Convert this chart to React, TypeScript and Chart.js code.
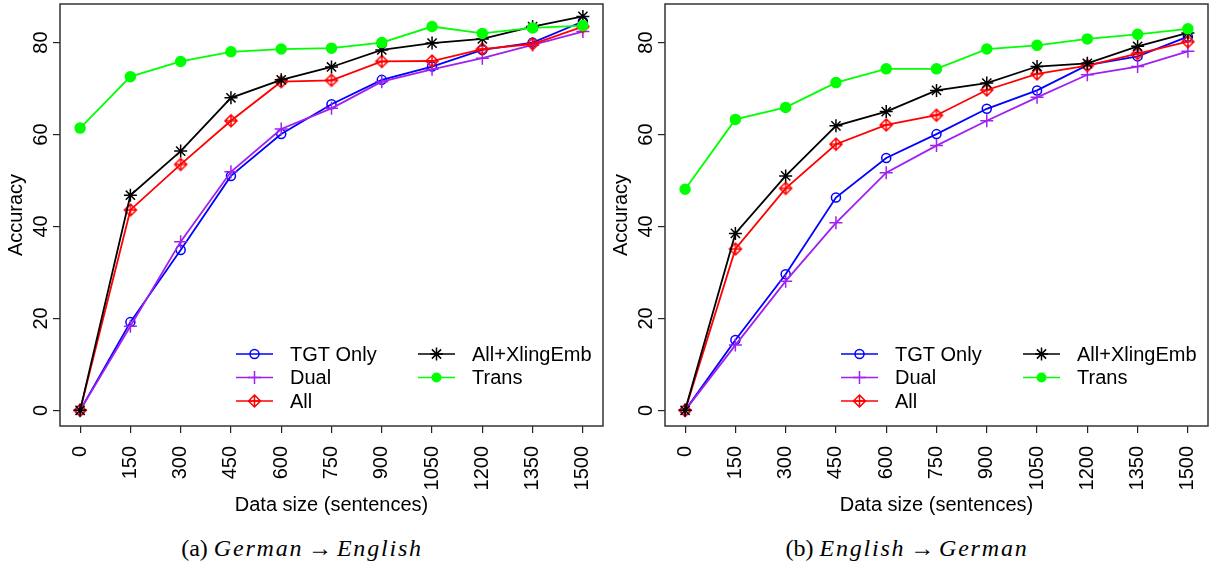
import React, { useEffect, useRef } from "react";
import { Chart, registerables } from "chart.js";

Chart.register(...registerables);

// ---------------- data ----------------
const dataSizes = [0, 150, 300, 450, 600, 750, 900, 1050, 1200, 1350, 1500];
const xTickLabels = ["0", "150", "300", "450", "600", "750", "900", "1050", "1200", "1350", "1500"];
const yTicks = [0, 20, 40, 60, 80];
const seriesNames = ["TGT Only", "Dual", "All", "All+XlingEmb", "Trans"];

// (a) German -> English
const deEnTgtOnly = [0, 19.2, 34.9, 51.0, 60.1, 66.6, 71.9, 74.8, 78.4, 80.0, 84.6];
const deEnDual = [0, 18.3, 36.7, 51.9, 61.2, 65.7, 71.5, 74.2, 76.6, 79.5, 82.4];
const deEnAll = [0, 43.6, 53.5, 63.0, 71.5, 71.8, 75.9, 76.0, 78.6, 79.7, 83.5];
const deEnXling = [0, 46.8, 56.4, 68.0, 71.9, 74.7, 78.4, 79.9, 80.8, 83.5, 85.7];
const deEnTrans = [61.4, 72.6, 75.9, 78.0, 78.6, 78.8, 80.0, 83.5, 82.0, 83.2, 83.7];

// (b) English -> German
const enDeTgtOnly = [0, 15.3, 29.6, 46.3, 54.9, 60.1, 65.6, 69.6, 75.1, 77.0, 81.3];
const enDeDual = [0, 14.2, 28.1, 40.8, 51.7, 57.6, 63.0, 68.1, 73.0, 74.8, 78.1];
const enDeAll = [0, 35.1, 48.3, 57.9, 62.1, 64.2, 69.7, 73.2, 75.0, 77.6, 80.2];
const enDeXling = [0, 38.5, 51.0, 61.9, 65.0, 69.6, 71.2, 74.8, 75.5, 79.2, 82.1];
const enDeTrans = [48.1, 63.3, 65.9, 71.3, 74.3, 74.3, 78.6, 79.4, 80.8, 81.8, 83.0];

// ---------------- styling ----------------
const seriesColors = ["#0000FF", "#A020F0", "#FF0000", "#000000", "#00FF00"];
const markerKinds = ["openCircle", "plus", "diamondPlus", "asterisk", "dot"];
const FONT = '"Liberation Sans", Arial, Helvetica, sans-serif';
const CANVAS_W = 605;
const CANVAS_H = 520;
const PLOT_BOTTOM = 426;

function drawMarker(ctx: CanvasRenderingContext2D, kind: string, x: number, y: number, color: string) {
  ctx.save();
  ctx.strokeStyle = color;
  ctx.fillStyle = color;
  ctx.lineWidth = 1.5;
  ctx.beginPath();
  if (kind === "openCircle") {
    ctx.arc(x, y, 4.5, 0, Math.PI * 2);
    ctx.stroke();
  } else if (kind === "dot") {
    ctx.arc(x, y, 5, 0, Math.PI * 2);
    ctx.fill();
  } else if (kind === "plus") {
    ctx.moveTo(x - 6.5, y); ctx.lineTo(x + 6.5, y);
    ctx.moveTo(x, y - 6.5); ctx.lineTo(x, y + 6.5);
    ctx.stroke();
  } else if (kind === "asterisk") {
    const r = 6.5, d = r * 0.7071;
    ctx.moveTo(x - r, y); ctx.lineTo(x + r, y);
    ctx.moveTo(x, y - r); ctx.lineTo(x, y + r);
    ctx.moveTo(x - d, y - d); ctx.lineTo(x + d, y + d);
    ctx.moveTo(x - d, y + d); ctx.lineTo(x + d, y - d);
    ctx.stroke();
  } else if (kind === "diamondPlus") {
    const r = 6;
    ctx.moveTo(x, y - r); ctx.lineTo(x + r, y); ctx.lineTo(x, y + r); ctx.lineTo(x - r, y); ctx.closePath();
    ctx.moveTo(x - r, y); ctx.lineTo(x + r, y);
    ctx.moveTo(x, y - r); ctx.lineTo(x, y + r);
    ctx.stroke();
  }
  ctx.restore();
}

function makeDiamondPlusCanvas(color: string) {
  const c = document.createElement("canvas");
  c.width = 16;
  c.height = 16;
  const ctx = c.getContext("2d")!;
  drawMarker(ctx, "diamondPlus", 8, 8, color);
  return c;
}

type PanelProps = {
  series: number[][];
  left: number;
  captionLabel: string;
  from: string;
  to: string;
};

function Panel({ series, left, captionLabel, from, to }: PanelProps) {
  const ref = useRef<HTMLCanvasElement | null>(null);

  useEffect(() => {
    if (!ref.current) return;
    const diamond = makeDiamondPlusCanvas(seriesColors[2]);

    const datasets = series.map((vals, i) => {
      const kind = markerKinds[i];
      const color = seriesColors[i];
      let pointStyle: any = "circle";
      let pointRadius = 4.5;
      let pointBackgroundColor = "rgba(0,0,0,0)";
      if (kind === "plus") { pointStyle = "cross"; pointRadius = 6.5; }
      if (kind === "asterisk") { pointStyle = "star"; pointRadius = 6.5; }
      if (kind === "diamondPlus") { pointStyle = diamond; pointRadius = 8; }
      if (kind === "dot") { pointRadius = 5; pointBackgroundColor = color; }
      return {
        label: seriesNames[i],
        data: dataSizes.map((x, j) => ({ x, y: vals[j] })),
        borderColor: color,
        backgroundColor: color,
        borderWidth: 1.8,
        pointStyle,
        pointRadius,
        pointBorderColor: color,
        pointBackgroundColor,
        pointBorderWidth: 1.5,
        tension: 0,
        fill: false,
        order: series.length - i,
      };
    });

    const boxPlugin = {
      id: "rbox",
      afterDatasetsDraw(chart: any) {
        const { ctx, chartArea } = chart;
        ctx.save();
        ctx.strokeStyle = "#333";
        ctx.lineWidth = 1.5;
        ctx.strokeRect(chartArea.left, chartArea.top, chartArea.right - chartArea.left, chartArea.bottom - chartArea.top);
        ctx.restore();
      },
    };

    const legendPlugin = {
      id: "rlegend",
      afterDraw(chart: any) {
        const ctx = chart.ctx as CanvasRenderingContext2D;
        const colStart = [236, 418];
        const rowsY = [354, 377.5, 401];
        const lineLen = 37;
        const textOffset = 54;
        ctx.save();
        ctx.font = `20px ${FONT}`;
        ctx.textBaseline = "middle";
        ctx.textAlign = "left";
        chart.data.datasets.forEach((ds: any, i: number) => {
          const col = i < 3 ? 0 : 1;
          const row = i < 3 ? i : i - 3;
          const x0 = colStart[col];
          const y = rowsY[row];
          ctx.strokeStyle = seriesColors[i];
          ctx.lineWidth = 1.5;
          ctx.beginPath();
          ctx.moveTo(x0, y);
          ctx.lineTo(x0 + lineLen, y);
          ctx.stroke();
          drawMarker(ctx, markerKinds[i], x0 + lineLen / 2, y, seriesColors[i]);
          ctx.fillStyle = "#000";
          ctx.fillText(ds.label, x0 + textOffset, y + 1);
        });
        ctx.restore();
      },
    };

    const chart = new Chart(ref.current, {
      type: "line",
      data: { datasets: datasets as any },
      plugins: [boxPlugin, legendPlugin],
      options: {
        animation: false,
        responsive: false,
        events: [],
        layout: { autoPadding: false, padding: { left: 0, right: 2, top: 4, bottom: 0 } },
        plugins: {
          legend: { display: false },
          tooltip: { enabled: false },
          title: { display: false },
        },
        scales: {
          x: {
            type: "linear",
            min: -60,
            max: 1560,
            afterBuildTicks: (axis: any) => {
              axis.ticks = dataSizes.map((v) => ({ value: v }));
            },
            afterFit: (axis: any) => {
              axis.height = CANVAS_H - PLOT_BOTTOM;
              axis.paddingLeft = 0;
              axis.paddingRight = 0;
            },
            border: { display: false },
            grid: {
              display: true,
              drawOnChartArea: false,
              drawTicks: true,
              tickLength: 7,
              color: "#222",
              lineWidth: 1.2,
            },
            ticks: {
              autoSkip: false,
              minRotation: 90,
              maxRotation: 90,
              padding: 13,
              color: "#000",
              font: { family: FONT, size: 20 },
              callback: (_v: any, idx: number) => xTickLabels[idx],
            },
            title: {
              display: true,
              text: "Data size (sentences)",
              color: "#000",
              font: { family: FONT, size: 20 },
              padding: { top: 0, bottom: 3 },
            },
          },
          y: {
            type: "linear",
            min: -3.4,
            max: 88.4,
            afterBuildTicks: (axis: any) => {
              axis.ticks = yTicks.map((v) => ({ value: v }));
            },
            afterFit: (axis: any) => {
              axis.width = 60;
              axis.paddingTop = 0;
              axis.paddingBottom = 0;
            },
            border: { display: false },
            grid: {
              display: true,
              drawOnChartArea: false,
              drawTicks: true,
              tickLength: 7,
              color: "#222",
              lineWidth: 1.2,
            },
            ticks: {
              minRotation: 90,
              maxRotation: 90,
              crossAlign: "center",
              padding: 0,
              color: "#000",
              font: { family: FONT, size: 20 },
              callback: (v: any) => String(v),
            },
            title: {
              display: true,
              text: "Accuracy",
              color: "#000",
              font: { family: FONT, size: 20 },
              padding: { top: 4, bottom: 0 },
            },
          },
        },
      } as any,
    });
    return () => chart.destroy();
  }, [series]);

  return (
    <>
      <canvas
        ref={ref}
        width={CANVAS_W}
        height={CANVAS_H}
        style={{ position: "absolute", left, top: 0, width: CANVAS_W, height: CANVAS_H }}
      />
      <div
        style={{
          position: "absolute",
          left: left + 302 - 200,
          top: 533,
          width: 400,
          height: 30,
          lineHeight: "30px",
          textAlign: "center",
          fontFamily: '"Liberation Serif", "DejaVu Serif", serif',
          fontSize: 24,
          color: "#000",
          whiteSpace: "nowrap",
        }}
      >
        {captionLabel}{" "}
        <i style={{ letterSpacing: "1.8px" }}>{from}</i>
        {"\u2009\u2192\u2009"}
        <i style={{ letterSpacing: "1.8px" }}>{to}</i>
      </div>
    </>
  );
}

const leftSeries = [deEnTgtOnly, deEnDual, deEnAll, deEnXling, deEnTrans];
const rightSeries = [enDeTgtOnly, enDeDual, enDeAll, enDeXling, enDeTrans];

export default function App() {
  return (
    <div style={{ position: "absolute", left: 0, top: 0, width: 1213, height: 562, background: "#fff", overflow: "hidden" }}>
      <Panel series={leftSeries} left={0} captionLabel="(a)" from="German" to="English" />
      <Panel series={rightSeries} left={605} captionLabel="(b)" from="English" to="German" />
    </div>
  );
}
